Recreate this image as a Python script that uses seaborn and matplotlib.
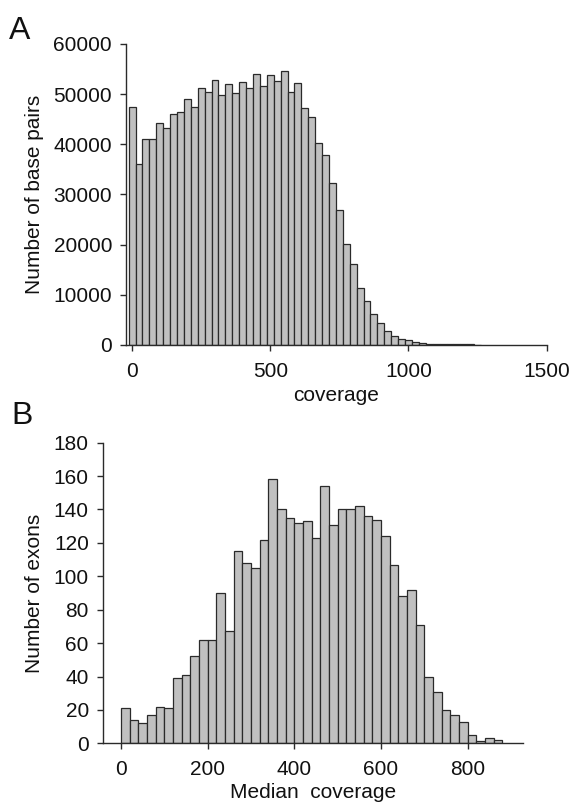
import numpy as np
import pandas as pd
import matplotlib
matplotlib.use("Agg")
import matplotlib.pyplot as plt
import seaborn as sns

# Panel A: base pairs per coverage bin (bins of 25, centred on 0, 25, 50, ...)
cobertura_ancho = 25
pares_bases = [
    47500, 36100, 41100, 41000, 44200, 43200, 46000, 46400, 49100, 47400,
    51300, 50400, 52900, 49900, 52000, 50300, 52500, 51300, 54000, 51600,
    53800, 52600, 54600, 50400, 52300, 47200, 45400, 40300, 37900, 32300,
    26900, 20200, 16100, 11400, 8700, 6100, 4400, 2700, 1800, 1100,
    1000, 600, 400, 250, 250, 200, 150, 150, 120, 100, 80,
]

# Panel B: exons per median coverage bin (bins of 20 starting at 0)
mediana_ancho = 20
exones = [
    21, 14, 12, 17, 22, 21, 39, 41, 52, 62,
    62, 90, 67, 115, 108, 105, 122, 158, 140, 135,
    132, 133, 123, 154, 131, 140, 140, 142, 136, 134,
    124, 107, 88, 92, 71, 40, 31, 20, 17, 13,
    5, 1.5, 3, 2,
]

sns.set_style("ticks")
plt.rcParams["font.family"] = ["Liberation Sans", "DejaVu Sans"]
plt.rcParams["font.size"] = 15
plt.rcParams["text.color"] = "#111111"
plt.rcParams["axes.labelcolor"] = "#111111"
plt.rcParams["xtick.labelcolor"] = "#111111"
plt.rcParams["ytick.labelcolor"] = "#111111"

relleno = "#c0c0c0"
borde = "#2a2a2a"

fig = plt.figure(figsize=(5.71, 8.09), dpi=100)

# ---------- A ----------
centros_a = np.arange(len(pares_bases)) * cobertura_ancho
datos_a = pd.DataFrame({"coverage": centros_a, "n": pares_bases})
ax1 = fig.add_axes([126 / 571, 1 - 345 / 809, 420.7 / 571, 301 / 809])
sns.histplot(data=datos_a, x="coverage", weights="n", binwidth=cobertura_ancho,
             binrange=(-cobertura_ancho / 2, centros_a[-1] + cobertura_ancho / 2),
             ax=ax1, color=relleno, edgecolor=borde, linewidth=0.9, alpha=1)
ax1.set_xlim(-22, 1500)
ax1.set_ylim(0, 60000)
ax1.set_xticks([0, 500, 1000, 1500])
ax1.set_yticks(range(0, 60001, 10000))
ax1.set_xlabel("coverage", labelpad=4)
ax1.set_ylabel("Number of base pairs", labelpad=7)
fig.text(9 / 571, 1 - 39 / 809, "A", fontsize=23)

# ---------- B ----------
centros_b = np.arange(len(exones)) * mediana_ancho + mediana_ancho / 2
datos_b = pd.DataFrame({"mediana": centros_b, "n": exones})
ax2 = fig.add_axes([102.7 / 571, 1 - 743.3 / 809, 420 / 571, 300.6 / 809])
sns.histplot(data=datos_b, x="mediana", weights="n", binwidth=mediana_ancho,
             binrange=(0, len(exones) * mediana_ancho),
             ax=ax2, color=relleno, edgecolor=borde, linewidth=0.9, alpha=1)
ax2.set_xlim(-42, 927)
ax2.set_ylim(0, 180)
ax2.set_xticks([0, 200, 400, 600, 800])
ax2.set_yticks(range(0, 181, 20))
ax2.set_xlabel("Median  coverage", labelpad=3)
ax2.set_ylabel("Number of exons", labelpad=7)
fig.text(11 / 571, 1 - 424 / 809, "B", fontsize=23)

for ax in (ax1, ax2):
    sns.despine(ax=ax)
    for s in ("left", "bottom"):
        ax.spines[s].set_color(borde)
        ax.spines[s].set_linewidth(1.0)
    ax.tick_params(direction="out", length=4, width=1, color=borde,
                   labelsize=15, pad=6)
    ax.tick_params(axis="x", pad=8)

fig.savefig("out.png", dpi=100)
